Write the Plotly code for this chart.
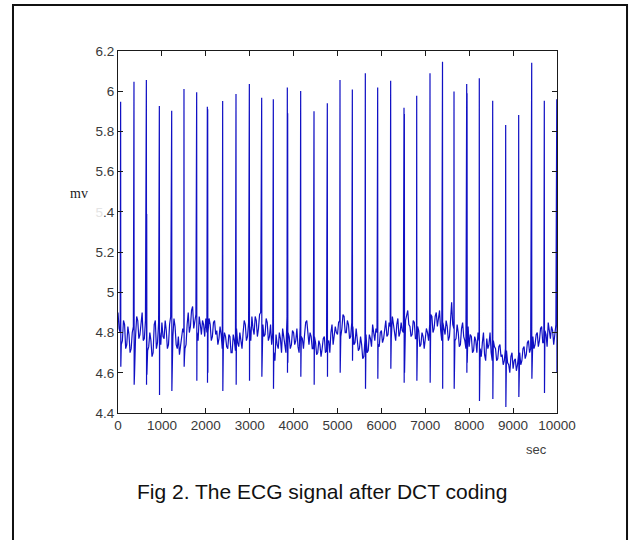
import plotly.graph_objects as go

# ---- data ----
base_step = 25  # seconds between baseline samples
baseline = [
    4.90, 4.82, 4.80, 4.74, 4.76, 4.86, 4.84, 4.72, 4.74, 4.83, 4.79, 4.70, 4.72, 4.80, 4.83, 4.75, 4.78, 4.88, 4.86, 4.77,
    4.79, 4.85, 4.90, 4.76, 4.77, 4.86, 4.82, 4.71, 4.73, 4.80, 4.76, 4.68, 4.70, 4.84, 4.86, 4.72, 4.75, 4.85, 4.80, 4.74,
    4.85, 4.78, 4.77, 4.86, 4.81, 4.72, 4.74, 4.84, 4.88, 4.76, 4.78, 4.87, 4.83, 4.74, 4.72, 4.78, 4.69, 4.74, 4.76, 4.82,
    4.80, 4.72, 4.74, 4.84, 4.90, 4.80, 4.83, 4.91, 4.93, 4.82, 4.85, 4.89, 4.80, 4.76, 4.88, 4.84, 4.79, 4.86, 4.84, 4.78,
    4.87, 4.80, 4.80, 4.87, 4.84, 4.76, 4.78, 4.85, 4.86, 4.79, 4.81, 4.74, 4.77, 4.83, 4.79, 4.72, 4.74, 4.80, 4.78, 4.73,
    4.72, 4.79, 4.78, 4.70, 4.70, 4.79, 4.76, 4.71, 4.82, 4.75, 4.73, 4.80, 4.77, 4.72, 4.80, 4.86, 4.84, 4.76, 4.78, 4.85,
    4.83, 4.76, 4.88, 4.82, 4.79, 4.88, 4.86, 4.78, 4.82, 4.89, 4.90, 4.81, 4.84, 4.78, 4.79, 4.87, 4.85, 4.76, 4.78, 4.84,
    4.74, 4.80, 4.70, 4.66, 4.79, 4.74, 4.72, 4.80, 4.77, 4.70, 4.82, 4.78, 4.75, 4.70, 4.88, 4.80, 4.78, 4.72, 4.74, 4.81,
    4.80, 4.74, 4.76, 4.82, 4.73, 4.70, 4.83, 4.78, 4.77, 4.72, 4.79, 4.85, 4.86, 4.78, 4.74, 4.80, 4.78, 4.72, 4.72, 4.78,
    4.75, 4.69, 4.70, 4.76, 4.74, 4.68, 4.72, 4.77, 4.78, 4.70, 4.71, 4.75, 4.76, 4.70, 4.80, 4.84, 4.74, 4.78, 4.83, 4.80,
    4.79, 4.85, 4.86, 4.78, 4.82, 4.89, 4.88, 4.80, 4.80, 4.86, 4.84, 4.77, 4.78, 4.85, 4.83, 4.74, 4.75, 4.82, 4.77, 4.71,
    4.72, 4.78, 4.74, 4.67, 4.68, 4.76, 4.79, 4.70, 4.71, 4.79, 4.77, 4.73, 4.84, 4.80, 4.76, 4.82, 4.80, 4.74, 4.73, 4.80,
    4.81, 4.75, 4.77, 4.83, 4.86, 4.78, 4.79, 4.85, 4.83, 4.77, 4.88, 4.84, 4.80, 4.76, 4.84, 4.87, 4.78, 4.80, 4.85, 4.81,
    4.80, 4.76, 4.86, 4.88, 4.91, 4.84, 4.83, 4.78, 4.79, 4.86, 4.85, 4.77, 4.77, 4.83, 4.81, 4.73, 4.74, 4.80, 4.78, 4.72,
    4.76, 4.82, 4.80, 4.76, 4.84, 4.89, 4.88, 4.80, 4.82, 4.88, 4.90, 4.83, 4.86, 4.91, 4.81, 4.76, 4.85, 4.82, 4.79, 4.86,
    4.83, 4.76, 4.78, 4.86, 4.95, 4.84, 4.82, 4.76, 4.77, 4.84, 4.80, 4.73, 4.74, 4.82, 4.85, 4.78, 4.76, 4.72, 4.79, 4.83,
    4.73, 4.79, 4.78, 4.70, 4.71, 4.78, 4.76, 4.70, 4.80, 4.76, 4.72, 4.68, 4.75, 4.80, 4.69, 4.66, 4.77, 4.72, 4.74, 4.80,
    4.70, 4.66, 4.76, 4.73, 4.72, 4.66, 4.67, 4.73, 4.74, 4.68, 4.69, 4.64, 4.66, 4.72, 4.71, 4.65, 4.64, 4.60, 4.68, 4.70,
    4.62, 4.66, 4.67, 4.61, 4.64, 4.69, 4.70, 4.64, 4.66, 4.72, 4.73, 4.67, 4.69, 4.75, 4.76, 4.70, 4.72, 4.80, 4.78, 4.72,
    4.74, 4.79, 4.80, 4.73, 4.76, 4.82, 4.83, 4.75, 4.75, 4.81, 4.79, 4.73, 4.85, 4.80, 4.77, 4.83, 4.81, 4.74, 4.78, 4.84,
    4.80,
]

spike_times = [60, 364, 646, 942, 1223, 1503, 1792, 2035, 2384, 2688,
               2992, 3273, 3538, 3857, 4161, 4465, 4768, 5057, 5338, 5634,
               5915, 6211, 6515, 6804, 7107, 7392, 7654, 7943, 8230, 8535,
               8831, 9127, 9424, 9711, 9995]
spike_peaks = [5.948, 6.047, 6.056, 5.926, 5.903, 6.011, 5.995, 5.923, 5.951, 5.986,
               6.036, 5.968, 5.960, 6.019, 6.001, 5.901, 5.940, 6.056, 6.009, 6.089,
               6.019, 6.052, 5.918, 5.978, 6.089, 6.147, 5.998, 6.036, 6.064, 5.953,
               5.832, 5.882, 6.142, 5.953, 5.960]
spike_dips = [4.63, 4.54, 4.54, 4.49, 4.51, 4.63, 4.56, 4.55, 4.51, 4.54,
              4.56, 4.58, 4.52, 4.60, 4.58, 4.54, 4.58, 4.60, 4.66, 4.52,
              4.57, 4.62, 4.55, 4.56, 4.55, 4.52, 4.52, 4.60, 4.46, 4.47,
              4.43, 4.48, 4.57, 4.50, 4.60]
# second (overlapping) beat drawn inside some spikes
second_peaks = {364: 5.48, 646: 5.39, 1503: 5.787, 2035: 5.91, 3857: 5.89,
                5634: 5.877, 6515: 5.887, 7943: 5.99}

x_ticks = [0, 1000, 2000, 3000, 4000, 5000, 6000, 7000, 8000, 9000, 10000]
y_ticks = [4.4, 4.6, 4.8, 5.0, 5.2, 5.4, 5.6, 5.8, 6.0, 6.2]
y_tick_text = ["4.4", "4.6", "4.8", "5", "5.2",
               "<span style='color:#e4e4e4'>5</span>.4", "5.6", "5.8", "6", "6.2"]

# ---- assemble the signal ----
events = [(i * base_step, v) for i, v in enumerate(baseline)]
for t, p, d in zip(spike_times, spike_peaks, spike_dips):
    events.append((t, p))
    events.append((t + 4, d))
    if t in second_peaks:
        events.append((t + 8, second_peaks[t]))
        events.append((t + 12, d + 0.05))
events.sort(key=lambda e: e[0])
xs = [e[0] for e in events]
ys = [e[1] for e in events]

fig = go.Figure()
fig.add_trace(go.Scatter(x=xs, y=ys, mode="lines",
                         line=dict(color="#1010c4", width=1.2),
                         hoverinfo="skip", showlegend=False))

tick_font = dict(family="Liberation Sans, Arial, sans-serif", size=13.5, color="#383838")
axis_common = dict(showgrid=False, zeroline=False, showline=True, linecolor="#1a1a1a",
                   linewidth=1, ticks="inside", ticklen=5, tickcolor="#1a1a1a",
                   mirror="ticks", tickfont=tick_font)

fig.update_xaxes(range=[0, 10000], tickvals=x_ticks, ticktext=[str(v) for v in x_ticks],
                 **axis_common)
fig.update_yaxes(range=[4.4, 6.2], tickvals=y_ticks, ticktext=y_tick_text,
                 **axis_common)

fig.update_layout(
    width=630, height=540,
    margin=dict(l=118, r=73, t=51, b=127),
    paper_bgcolor="white", plot_bgcolor="white",
    shapes=[dict(type="rect", xref="paper", yref="paper",
                 x0=-0.2392, x1=1.1595, y0=-0.37, y1=1.127,
                 line=dict(color="#111111", width=2), layer="below")],
    annotations=[
        dict(text="mv", xref="paper", yref="paper", x=-0.0888, y=0.6077,
             xanchor="center", yanchor="middle", showarrow=False,
             font=dict(family="Liberation Serif, Times New Roman, serif",
                       size=14, color="#222222")),
        dict(text="sec", xref="paper", yref="paper", x=0.954, y=-0.102,
             xanchor="center", yanchor="middle", showarrow=False,
             font=dict(family="Liberation Sans, Arial, sans-serif",
                       size=13, color="#404040")),
        dict(text="Fig 2. The ECG signal after DCT coding", xref="paper", yref="paper",
             x=0.4636, y=-0.218, xanchor="center", yanchor="middle", showarrow=False,
             font=dict(family="Liberation Sans, Arial, sans-serif", size=21, color="#111111")),
    ],
)

fig.write_html("out.html", config={"displayModeBar": False},
               post_script="document.body.style.margin='0';")
